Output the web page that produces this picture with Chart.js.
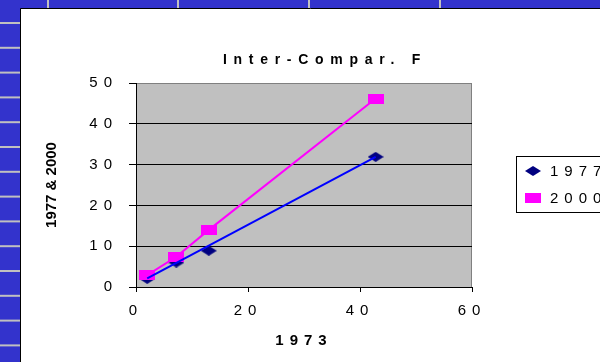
<!DOCTYPE html>
<html>
<head>
<meta charset="utf-8">
<script src="https://cdn.jsdelivr.net/npm/chart.js@4.4.1/dist/chart.umd.min.js"></script>
<style>
    html, body { margin: 0; padding: 0; background: #3333cc; }
    #wrap { width: 600px; height: 362px; }
</style>
</head>
<body>
<div id="wrap"><canvas id="chart" width="600" height="362"></canvas></div>
<script>
// Data
const TITLE = 'Inter-Compar. F';
const X_TITLE = '1973';
const Y_TITLE = '1977 & 2000';
const x1973 = [2, 7.2, 13, 42.8];
const y1977 = [2, 6, 8.9, 31.9];
const y2000 = [2.9, 7.4, 14, 46.2];
// blue straight line (trend of 1977)
const trendX = [2, 42.8];
const trend1977 = [2.1, 31.9];

const FONT = 'Arial, "Liberation Sans", sans-serif';
const SPACING = '6px';

// wide markers, the original is stretched sideways
function makeMarker(kind, color) {
    const c = document.createElement('canvas');
    c.width = 16;
    c.height = 10;
    const g = c.getContext('2d');
    g.fillStyle = color;
    if (kind === 'rect') {
        g.fillRect(0, 0, 16, 10);
    } else {
        g.beginPath();
        g.moveTo(0, 5);
        g.lineTo(8, 0);
        g.lineTo(16, 5);
        g.lineTo(8, 10);
        g.closePath();
        g.fill();
    }
    return c;
}
const diamond = makeMarker('diamond', '#000080');
const square = makeMarker('rect', '#ff00ff');

const toPoints = (xs, ys) => xs.map((x, i) => ({ x: x, y: ys[i] }));

// Frame, plot background, title and legend
const decor = {
    id: 'decor',
    beforeUpdate(chart) {
        chart.ctx.letterSpacing = SPACING;
    },
    afterLayout(chart) {
        const ys = chart.scales.y;
        if (ys && !ys._noSpacing) {
            const orig = ys.drawTitle;
            ys.drawTitle = function () {
                const prev = this.ctx.letterSpacing;
                this.ctx.letterSpacing = '0px';
                orig.apply(this, arguments);
                this.ctx.letterSpacing = prev;
            };
            ys._noSpacing = true;
        }
    },
    beforeDraw(chart) {
        const ctx = chart.ctx;
        const a = chart.chartArea;
        ctx.save();
        ctx.letterSpacing = '0px';
        ctx.fillStyle = '#3333cc';
        ctx.fillRect(0, 0, chart.width, chart.height);
        ctx.strokeStyle = '#c0c0c0';
        ctx.lineWidth = 2;
        [48, 178, 309, 440].forEach(x => {
            ctx.beginPath();
            ctx.moveTo(x, 0);
            ctx.lineTo(x, 8);
            ctx.stroke();
        });
        for (let y = 23; y < chart.height; y += 24.8) {
            ctx.beginPath();
            ctx.moveTo(0, y);
            ctx.lineTo(21, y);
            ctx.stroke();
        }
        ctx.fillStyle = '#ffffff';
        ctx.fillRect(21, 8, chart.width - 21, chart.height - 8);
        ctx.strokeStyle = '#000000';
        ctx.lineWidth = 1;
        ctx.beginPath();
        ctx.moveTo(20.5, chart.height);
        ctx.lineTo(20.5, 8.5);
        ctx.lineTo(chart.width, 8.5);
        ctx.stroke();

        // plot area
        ctx.fillStyle = '#c0c0c0';
        ctx.fillRect(a.left, a.top, a.right - a.left, a.bottom - a.top);
        ctx.strokeStyle = '#808080';
        ctx.beginPath();
        ctx.moveTo(a.right - 0.5, a.top);
        ctx.lineTo(a.right - 0.5, a.bottom);
        ctx.stroke();
        ctx.restore();
        ctx.letterSpacing = SPACING;
    },
    afterDraw(chart) {
        const ctx = chart.ctx;
        ctx.save();
        ctx.letterSpacing = '6.7px';
        ctx.fillStyle = '#000000';
        ctx.font = 'bold 14px ' + FONT;
        ctx.textAlign = 'left';
        ctx.textBaseline = 'middle';
        ctx.fillText(TITLE, 223, 60);

        // legend box
        ctx.letterSpacing = SPACING;
        ctx.strokeStyle = '#000000';
        ctx.lineWidth = 1;
        ctx.strokeRect(516.5, 156.5, 120, 56);
        ctx.font = '15px ' + FONT;
        let y = 171;
        chart.data.datasets.forEach(ds => {
            if (!ds.inLegend) return;
            ctx.drawImage(ds.pointStyle, 525, y - 5);
            ctx.fillText(ds.label, 550, y + 1);
            y += 27;
        });
        ctx.restore();
    }
};

new Chart(document.getElementById('chart'), {
    type: 'scatter',
    data: {
        datasets: [{
            label: '1977',
            inLegend: true,
            data: toPoints(x1973, y1977),
            showLine: false,
            pointStyle: diamond,
            order: 2
        }, {
            label: '2000',
            inLegend: true,
            data: toPoints(x1973, y2000),
            showLine: true,
            borderColor: '#ff00ff',
            borderWidth: 2,
            pointStyle: square,
            order: 1
        }, {
            label: 'trend',
            data: toPoints(trendX, trend1977),
            showLine: true,
            borderColor: '#0000ff',
            borderWidth: 2,
            pointRadius: 0,
            order: 0
        }]
    },
    options: {
        responsive: false,
        animation: false,
        events: [],
        layout: { padding: { left: 30, top: 83, right: 128, bottom: 0 } },
        plugins: {
            legend: { display: false },
            title: { display: false },
            tooltip: { enabled: false }
        },
        scales: {
            x: {
                type: 'linear',
                min: 0,
                max: 60,
                afterFit: s => { s.height = 75; },
                ticks: {
                    stepSize: 20,
                    padding: 10,
                    color: '#000000',
                    font: { family: FONT, size: 15 },
                    maxRotation: 0
                },
                grid: {
                    drawOnChartArea: false,
                    tickLength: 5,
                    color: '#000000'
                },
                border: { color: '#000000', width: 1 },
                title: {
                    display: true,
                    text: X_TITLE,
                    color: '#000000',
                    font: { family: FONT, size: 15, weight: 'bold' },
                    padding: { top: 0, bottom: 12.5 }
                }
            },
            y: {
                type: 'linear',
                min: 0,
                max: 50,
                afterFit: s => { s.width = 106; },
                ticks: {
                    stepSize: 10,
                    padding: 11,
                    color: '#000000',
                    font: { family: FONT, size: 15 }
                },
                grid: {
                    tickLength: 7,
                    color: c => (c.tick && c.tick.value === 50 ? '#808080' : '#000000'),
                    tickColor: '#000000'
                },
                border: { color: '#000000', width: 1 },
                title: {
                    display: true,
                    text: Y_TITLE,
                    color: '#000000',
                    font: { family: FONT, size: 15, weight: 'bold' },
                    padding: { top: 13, bottom: 0 }
                }
            }
        }
    },
    plugins: [decor]
});
</script>
</body>
</html>
